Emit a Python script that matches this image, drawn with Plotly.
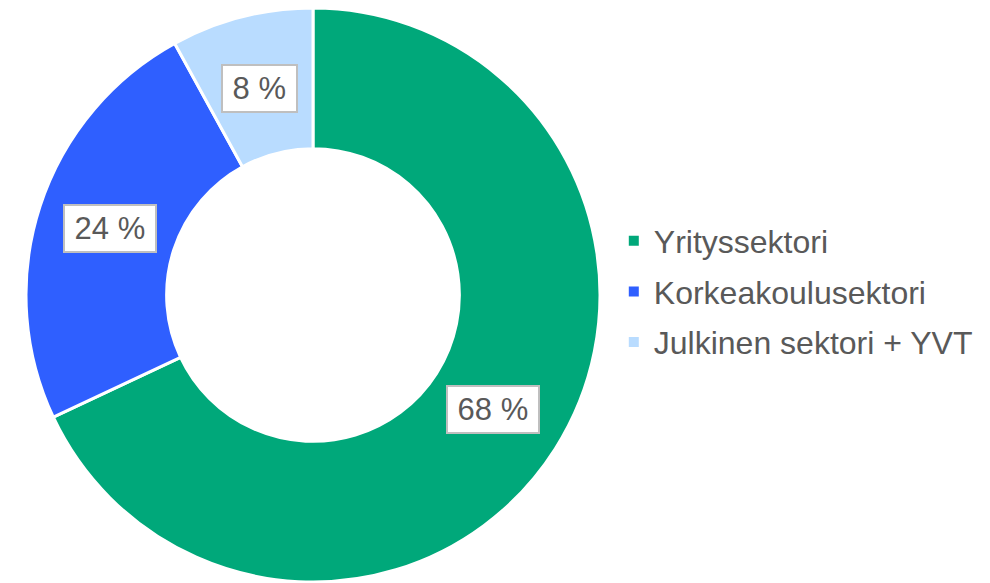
import math

from plotly import graph_objects as go

# data
sectors = ["Yrityssektori", "Korkeakoulusektori", "Julkinen sektori + YVT"]
shares = [68, 24, 8]
colors = ["#00A87A", "#2F5FFF", "#B9DCFF"]

W, H = 990, 583
HOLE = 0.51
# pie placement in pixels
CX, CY, R = 313, 295, 287

dom_x = [max(0, (CX - R) / W), min(1, (CX + R) / W)]
dom_y = [max(0, (H - CY - R) / H), min(1, (H - CY + R) / H)]

fig = go.Figure()
fig.add_trace(
    go.Pie(
        labels=sectors,
        values=shares,
        hole=HOLE,
        sort=False,
        direction="clockwise",
        rotation=0,
        marker=dict(colors=colors, line=dict(color="white", width=3)),
        textinfo="none",
        hoverinfo="label+percent",
        showlegend=False,
        domain=dict(x=dom_x, y=dom_y),
    )
)

# legend entries as separate groups so the spacing can be set
for name, col in zip(sectors, colors):
    fig.add_trace(
        go.Scatter(
            x=[None],
            y=[None],
            mode="markers",
            name=name,
            legendgroup=name,
            marker=dict(symbol="square", size=10, color=col),
        )
    )

# boxed percentage labels at the middle of each ring slice
total = sum(shares)
mid_r = R * (1 + HOLE) / 2 - 3
start = 90.0
for val in shares:
    sweep = 360.0 * val / total
    ang = math.radians(start - sweep / 2)
    start -= sweep
    fig.add_annotation(
        x=(CX + mid_r * math.cos(ang)) / W,
        y=(H - CY + mid_r * math.sin(ang)) / H,
        xref="paper",
        yref="paper",
        xanchor="center",
        yanchor="middle",
        text=f" {round(100 * val / total)} % ",
        showarrow=False,
        font=dict(size=31, color="#595959"),
        height=43,
        bgcolor="white",
        bordercolor="#BFBFBF",
        borderwidth=2,
        borderpad=1,
    )

fig.update_layout(
    width=W,
    height=H,
    margin=dict(l=0, r=0, t=0, b=0),
    paper_bgcolor="white",
    plot_bgcolor="white",
    font=dict(family="Liberation Sans, Arial, sans-serif", color="#595959"),
    xaxis=dict(visible=False),
    yaxis=dict(visible=False),
    legend=dict(
        x=0.62,
        xanchor="left",
        y=0.5,
        yanchor="middle",
        font=dict(size=32, color="#595959"),
        traceorder="grouped",
        tracegroupgap=6,
        bgcolor="rgba(0,0,0,0)",
    ),
)

fig.write_html(
    "out.html",
    config={"displayModeBar": False},
    post_script="document.body.style.margin = '0';",
)
